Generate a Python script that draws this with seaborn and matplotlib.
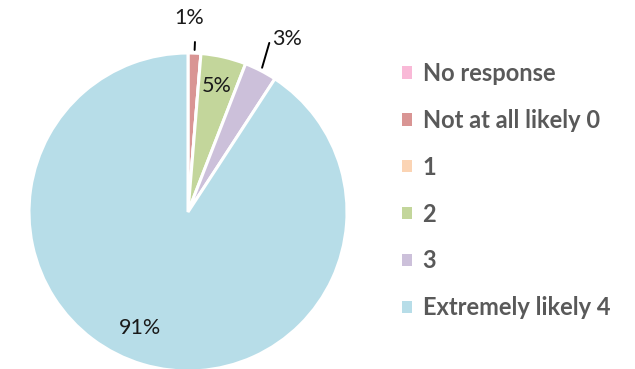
import numpy as np
import matplotlib
matplotlib.use("Agg")
import matplotlib.pyplot as plt
import matplotlib.patches as mpatches
import seaborn as sns

# values (percent of responses)
categorias = ["No response", "Not at all likely 0", "1", "2", "3", "Extremely likely 4"]
valores = [0.0, 1.3, 0.0, 4.6, 3.3, 90.8]
etiquetas = ["", "1%", "", "5%", "3%", "91%"]
colores = ["#F9B9D7", "#D99594", "#FBD4B4", "#C3D69B", "#CCC0DA", "#B7DDE8"]

sns.set_theme(style="white")
plt.rcParams["font.family"] = ["Lato", "DejaVu Sans"]

fig = plt.figure(figsize=(6.35, 3.69), dpi=100)
W, H = 635, 369
cx, cy, r = 188, 212, 159
ax = fig.add_axes([(cx - r) / W, (H - cy - r) / H, 2 * r / W, 2 * r / H])

wedges, _ = ax.pie(
    valores,
    colors=colores,
    startangle=90,
    counterclock=False,
    radius=1,
    wedgeprops=dict(edgecolor="white", linewidth=2.2),
)
ax.set_xlim(-1, 1)
ax.set_ylim(-1, 1)
ax.set_aspect("auto")
ax.axis("off")

# label placement: radius factor, angle tweak, leader line (from, to)
radio_etq = [0, 1.22, 0, 0.81, 1.25, 0.79]
ajuste_ang = [0, 2, 0, 0, -2.6, -6]
lineas = [None, (1.02, 1.07), None, None, (1.02, 1.18), None]

for w, txt, rr, da, ln in zip(wedges, etiquetas, radio_etq, ajuste_ang, lineas):
    if not txt:
        continue
    mid = np.deg2rad((w.theta1 + w.theta2) / 2)
    ang = np.deg2rad((w.theta1 + w.theta2) / 2 + da)
    ax.text(rr * np.cos(ang), rr * np.sin(ang), txt, ha="center", va="center",
            fontsize=15.5, color="#1a1a1a")
    if ln is not None:
        a2 = mid + np.deg2rad(1.5) if rr > 1.24 else mid
        ax.plot([ln[0] * np.cos(mid), ln[1] * np.cos(a2)],
                [ln[0] * np.sin(mid), ln[1] * np.sin(a2)],
                color="black", linewidth=1.4, clip_on=False)

handles = [mpatches.Patch(facecolor=c, edgecolor="none") for c in colores]
leg = fig.legend(
    handles, categorias,
    loc="upper left",
    bbox_to_anchor=(402 / W, 1 - 62 / H),
    frameon=False,
    borderaxespad=0, borderpad=0,
    handlelength=0.42, handleheight=0.42, handletextpad=0.45,
    labelspacing=1.01,
    prop=dict(family=["Lato", "DejaVu Sans"], weight="bold", size=17),
)
for t in leg.get_texts():
    t.set_color("#595959")

fig.savefig("out.png", dpi=100, facecolor="white")
